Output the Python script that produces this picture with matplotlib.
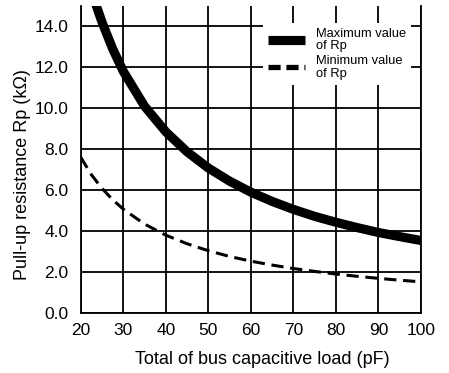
import matplotlib.pyplot as plt
from matplotlib.lines import Line2D

plt.rcParams['font.family'] = ['Liberation Sans', 'DejaVu Sans']

# bus capacitance (pF)
cap = [20, 22.5, 25, 27.5, 30, 35, 40, 45, 50, 55, 60, 65, 70, 75, 80, 85, 90, 95, 100]
# maximum value of Rp (kOhm)
rp_max = [17.7, 15.7, 14.2, 12.9, 11.8, 10.1, 8.85, 7.87, 7.08, 6.44, 5.9, 5.45, 5.06, 4.72,
          4.43, 4.17, 3.93, 3.73, 3.54]
# minimum value of Rp (kOhm)
rp_min = [7.6, 6.75, 6.08, 5.53, 5.07, 4.34, 3.8, 3.38, 3.04, 2.76, 2.53, 2.34, 2.17, 2.03,
          1.9, 1.79, 1.69, 1.6, 1.52]

fig = plt.figure(figsize=(4.49, 3.73), dpi=100)
ax = fig.add_axes([0.18, 0.161, 0.7576, 0.823])

ax.plot(cap, rp_max, color='black', lw=6.6, solid_capstyle='butt')
ax.plot(cap, rp_min, color='black', lw=2.2, dashes=(4, 2.2))

ax.set_xlim(20, 100)
ax.set_ylim(0, 15)
ax.set_xticks(range(20, 101, 10))
ax.set_yticks(range(0, 15, 2))
ax.set_yticklabels([f"{v:.1f}" for v in range(0, 15, 2)])
ax.grid(True, color='black', lw=1.3)
ax.set_axisbelow(True)
ax.tick_params(length=0, labelsize=12.5)
ax.tick_params(axis='x', pad=7)
ax.tick_params(axis='y', pad=9)
ax.spines['top'].set_visible(False)
for s in ['left', 'bottom', 'right']:
    ax.spines[s].set_linewidth(1.3)

ax.set_xlabel("Total of bus capacitive load (pF)", fontsize=13)
ax.set_ylabel("Pull-up resistance Rp (k\u03a9)", fontsize=13)
ax.xaxis.set_label_coords(0.535, -0.125)
ax.yaxis.set_label_coords(-0.145, 0.45)

handles = [Line2D([], [], color='black', lw=6.6, solid_capstyle='butt'),
           Line2D([], [], color='black', lw=3.8, dashes=(2.3, 1.1))]
leg = ax.legend(handles, ["Maximum value\nof Rp", "Minimum value\nof Rp"],
                loc='upper left', bbox_to_anchor=(0.535, 0.945), frameon=True,
                fancybox=False, framealpha=1, edgecolor='white', fontsize=9.3,
                handlelength=2.9, handletextpad=0.8, labelspacing=0.2,
                borderpad=0.4, borderaxespad=0)
leg.get_frame().set_linewidth(0)
for t in leg.get_texts():
    t.set_linespacing(1.05)

fig.savefig("out.png", dpi=100)
